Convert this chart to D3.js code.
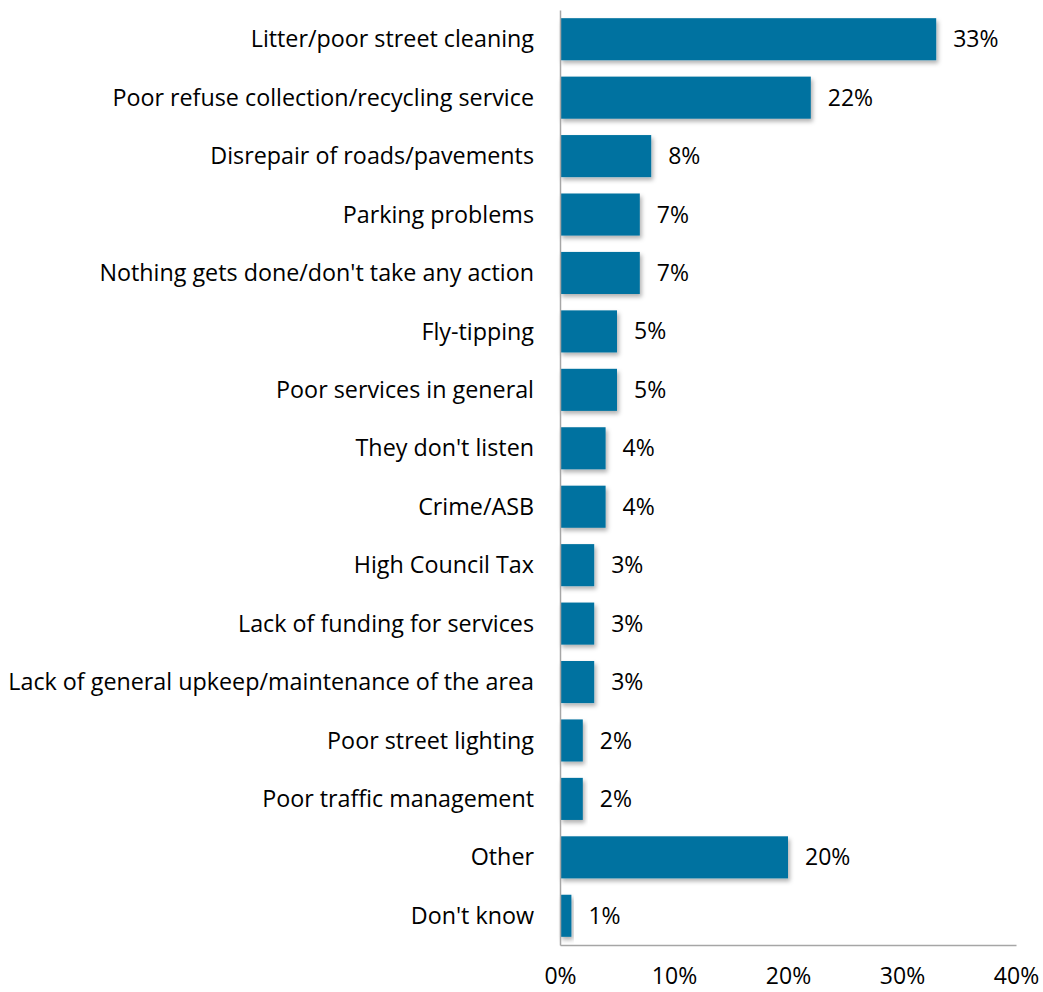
<!DOCTYPE html>
<html>
<head>
<meta charset="utf-8">
<script src="https://cdn.jsdelivr.net/npm/d3@7"></script>
<style>
  body { margin: 0; background: #fff; }
  text { font-family: "Open Sans", sans-serif; fill: #000; }
</style>
</head>
<body>
<script>
// Data
const categories = [
  "Litter/poor street cleaning",
  "Poor refuse collection/recycling service",
  "Disrepair of roads/pavements",
  "Parking problems",
  "Nothing gets done/don't take any action",
  "Fly-tipping",
  "Poor services in general",
  "They don't listen",
  "Crime/ASB",
  "High Council Tax",
  "Lack of funding for services",
  "Lack of general upkeep/maintenance of the area",
  "Poor street lighting",
  "Poor traffic management",
  "Other",
  "Don't know"
];
const values = [33, 22, 8, 7, 7, 5, 5, 4, 4, 3, 3, 3, 2, 2, 20, 1];
const xTicks = [0, 10, 20, 30, 40];

const catSize = "23.3px", numSize = "23px";

const margin = { top: 10, right: 27, bottom: 47, left: 560 },
  width = 1043 - margin.left - margin.right,
  height = 992 - margin.top - margin.bottom;

const svg = d3.select("body")
  .append("svg")
  .attr("width", 1043)
  .attr("height", 992);

// soft drop shadow like the original
const defs = svg.append("defs");
const f = defs.append("filter").attr("id", "shadow")
  .attr("x", "-10%").attr("y", "-20%").attr("width", "130%").attr("height", "160%");
f.append("feDropShadow")
  .attr("dx", 2).attr("dy", 3).attr("stdDeviation", 2)
  .attr("flood-color", "#000").attr("flood-opacity", 0.3);

const g = svg.append("g")
  .attr("transform", "translate(" + margin.left + "," + margin.top + ")");

const x = d3.scaleLinear().domain([0, 40]).range([0, width]);
const y = d3.scaleBand().domain(categories).range([0, height]).paddingInner(0.28).paddingOuter(0.14);

// Bars
g.selectAll("rect.bar")
  .data(values)
  .enter().append("rect")
  .attr("class", "bar")
  .attr("x", 0)
  .attr("y", (d, i) => y(categories[i]))
  .attr("width", d => x(d))
  .attr("height", y.bandwidth())
  .attr("fill", "#0072A0")
  .attr("filter", "url(#shadow)");

// Value labels
g.selectAll("text.val")
  .data(values)
  .enter().append("text")
  .attr("class", "val")
  .attr("x", d => x(d) + 17)
  .attr("y", (d, i) => y(categories[i]) + y.bandwidth() / 2)
  .attr("dy", "0.35em")
  .style("font-size", numSize)
  .text(d => d + "%");

// Category labels
g.selectAll("text.cat")
  .data(categories)
  .enter().append("text")
  .attr("class", "cat")
  .attr("x", -26)
  .attr("y", d => y(d) + y.bandwidth() / 2)
  .attr("dy", "0.35em")
  .attr("text-anchor", "end")
  .style("font-size", catSize)
  .text(d => d);

// X axis
const xAxis = d3.axisBottom(x).tickValues(xTicks).tickSize(0).tickPadding(23)
  .tickFormat(d => d + "%");
const xg = g.append("g")
  .attr("transform", "translate(0," + height + ")")
  .call(xAxis);
xg.select(".domain").attr("stroke", "#A6A6A6").attr("stroke-width", 1.5);
xg.selectAll("text").style("font-size", numSize).style("font-family", "'Open Sans', sans-serif").attr("fill", "#000");

// Y axis line
const yg = g.append("g").call(d3.axisLeft(y).tickSize(0).tickFormat(""));
yg.select(".domain").attr("stroke", "#A6A6A6").attr("stroke-width", 1.5);
</script>
</body>
</html>
